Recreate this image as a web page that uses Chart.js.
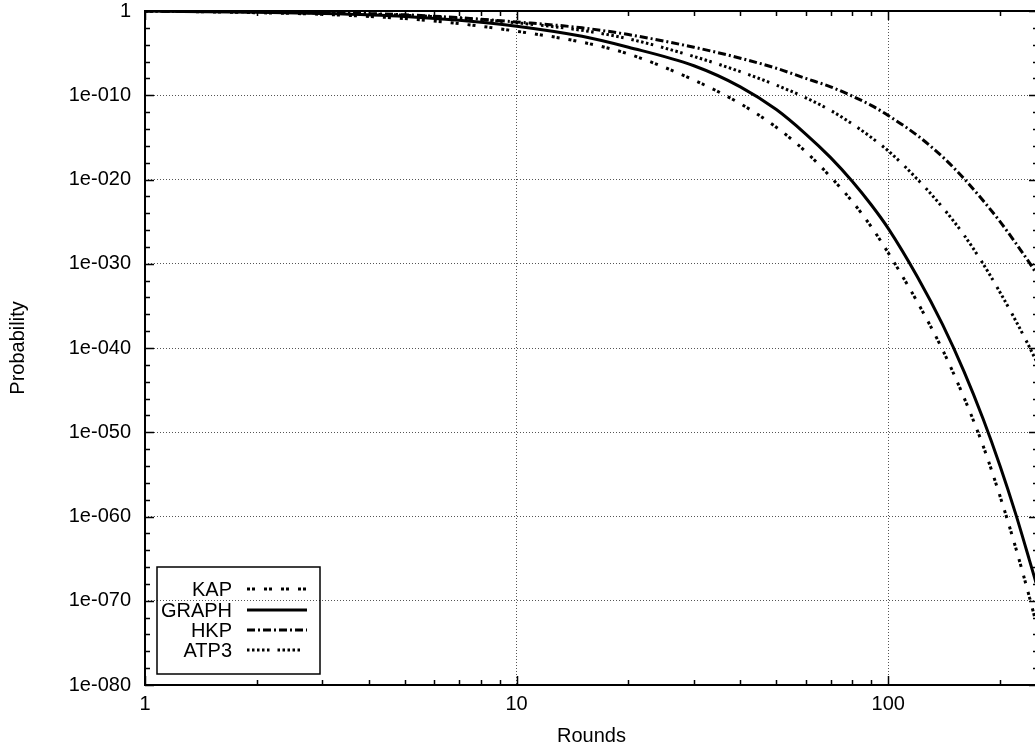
<!DOCTYPE html>
<html>
<head>
<meta charset="utf-8">
<title>Probability vs Rounds</title>
<script src="https://cdn.jsdelivr.net/npm/chart.js@4/dist/chart.umd.min.js"></script>
<style>
  html, body { margin: 0; padding: 0; background: #fff; }
  #wrap { width: 1035px; height: 749px; overflow: hidden; position: relative; }
  #wrap canvas { position: absolute; left: 0; top: 0; }
</style>
</head>
<body>
<div id="wrap"><canvas id="chart" width="1039" height="749"></canvas></div>
<script>
"use strict";

// Значения: log10 вероятности в каждой точке раунда.
const rounds   = [1, 2, 3, 5, 7, 10, 15, 20, 30, 40, 50, 60, 70, 80, 90, 100, 120, 140, 160, 180, 200, 220, 240, 250];
const kapExp   = [0, -0.2, -0.4, -0.9, -1.5, -2.4, -3.7, -5.1, -8.2, -11.0, -13.8, -16.7, -19.7, -22.6, -25.6, -28.7, -34.6, -40.2, -45.9, -51.6, -57.6, -63.6, -69.6, -72.6];
const graphExp = [0, -0.15, -0.3, -0.65, -1.1, -1.8, -3.0, -4.3, -6.5, -9.0, -11.7, -14.6, -17.4, -20.2, -23.0, -25.8, -31.6, -37.2, -42.8, -48.4, -54.0, -59.6, -65.2, -67.9];
const hkpExp   = [0, -0.1, -0.2, -0.45, -0.8, -1.3, -2.0, -2.8, -4.3, -5.6, -6.8, -8.0, -9.0, -10.1, -11.2, -12.4, -14.8, -17.3, -19.9, -22.5, -25.0, -27.5, -29.9, -31.1];
const atp3Exp  = [0, -0.1, -0.25, -0.5, -0.85, -1.4, -2.3, -3.3, -5.4, -7.2, -8.8, -10.3, -11.8, -13.4, -15.0, -16.6, -20.0, -23.3, -26.6, -30.0, -33.4, -36.7, -39.9, -41.5];

const xTicks = [1, 10, 100];
const xMinor = [2, 3, 4, 5, 6, 7, 8, 9, 20, 30, 40, 50, 60, 70, 80, 90, 200];
const yTicks = [1, 1e-10, 1e-20, 1e-30, 1e-40, 1e-50, 1e-60, 1e-70, 1e-80];

const FONT = "'Liberation Sans', Arial, Helvetica, sans-serif";
const toPoints = (exps) => exps.map((e, i) => ({ x: rounds[i], y: Math.pow(10, e) }));

const yLabel = (v) => {
  const e = Math.round(Math.log10(v));
  if (e === 0) return "1";
  return "1e-" + String(-e).padStart(3, "0");
};

const series = [
  { label: "KAP",   data: toPoints(kapExp),   dash: [3, 2, 3, 9] },
  { label: "GRAPH", data: toPoints(graphExp), dash: [] },
  { label: "HKP",   data: toPoints(hkpExp),   dash: [8, 3, 2, 3] },
  { label: "ATP3",  data: toPoints(atp3Exp),  dash: [2.5, 2.5, 2.5, 2.5, 2.5, 2.5, 2.5, 2.5, 2.5, 8] },
];

// подписи крайних делений не должны сдвигать область графика
const noEdgePad = (s) => { s.paddingTop = 0; s.paddingBottom = 0; s.paddingLeft = 0; s.paddingRight = 0; };

// рамка и засечки внутрь, как у gnuplot
const framePlugin = {
  id: "frame",
  afterDatasetsDraw(chart) {
    const { ctx, chartArea: a, scales } = chart;
    const x = scales.x, y = scales.y;
    ctx.save();
    ctx.strokeStyle = "#000";
    ctx.lineWidth = 1.5;
    ctx.beginPath();
    const xt = (v, len) => {
      const px = Math.round(x.getPixelForValue(v)) + 0.5;
      ctx.moveTo(px, a.bottom); ctx.lineTo(px, a.bottom - len);
      ctx.moveTo(px, a.top); ctx.lineTo(px, a.top + len);
    };
    xTicks.forEach((v) => xt(v, 9));
    xMinor.forEach((v) => xt(v, 5));
    for (let e = 0; e >= -80; e -= 2) {
      const len = e % 10 === 0 ? 9 : 5;
      const py = Math.round(y.getPixelForValue(Math.pow(10, e))) + 0.5;
      ctx.moveTo(a.left, py); ctx.lineTo(a.left + len, py);
      ctx.moveTo(a.right, py); ctx.lineTo(a.right - len, py);
    }
    ctx.stroke();
    ctx.lineWidth = 2;
    ctx.strokeRect(a.left, a.top, a.right - a.left, a.bottom - a.top);
    ctx.restore();
  },
};

// легенда в левом нижнем углу: подпись справа налево, образец линии справа
const legendPlugin = {
  id: "gpLegend",
  afterDraw(chart) {
    const { ctx } = chart;
    ctx.save();
    ctx.strokeStyle = "#000";
    ctx.lineWidth = 1.5;
    ctx.strokeRect(157, 567, 163, 107);
    ctx.font = "20px " + FONT;
    ctx.fillStyle = "#000";
    ctx.textAlign = "right";
    ctx.textBaseline = "middle";
    const rowY = [589, 610, 630, 650];
    chart.data.datasets.forEach((ds, i) => {
      ctx.fillText(ds.label, 232, rowY[i] + 1);
      ctx.beginPath();
      ctx.setLineDash(ds.borderDash || []);
      ctx.lineWidth = ds.borderWidth;
      ctx.lineCap = "butt";
      ctx.moveTo(247, rowY[i]);
      ctx.lineTo(307, rowY[i]);
      ctx.stroke();
    });
    ctx.restore();
  },
};

new Chart(document.getElementById("chart"), {
  type: "line",
  data: {
    datasets: series.map((s) => ({
      label: s.label,
      data: s.data,
      borderColor: "#000",
      backgroundColor: "#000",
      borderWidth: 3,
      borderDash: s.dash,
      borderCapStyle: "butt",
      pointRadius: 0,
      cubicInterpolationMode: "monotone",
      fill: false,
    })),
  },
  options: {
    responsive: false,
    animation: false,
    devicePixelRatio: 1,
    layout: { padding: { top: 11, right: 1, left: 0, bottom: 0 } },
    plugins: { legend: { display: false }, tooltip: { enabled: false } },
    scales: {
      x: {
        type: "logarithmic",
        min: 1,
        max: 253,
        afterBuildTicks: (s) => { s.ticks = xTicks.map((v) => ({ value: v })); },
        afterFit: (s) => { s.height = 64; noEdgePad(s); },
        grid: { color: "#555", lineWidth: 1, drawTicks: false },
        border: { display: false, dash: [1, 2] },
        ticks: {
          autoSkip: false, maxRotation: 0, padding: 7, color: "#000",
          font: { family: FONT, size: 20 },
          callback: (v) => String(v),
        },
        title: {
          display: true, text: "Rounds", color: "#000",
          font: { family: FONT, size: 20 }, padding: { top: 0, bottom: 1 },
        },
      },
      y: {
        type: "logarithmic",
        min: 1e-80,
        max: 1,
        afterBuildTicks: (s) => { s.ticks = yTicks.map((v) => ({ value: v })); },
        afterFit: (s) => { s.width = 145; noEdgePad(s); },
        grid: { color: "#555", lineWidth: 1, drawTicks: false },
        border: { display: false, dash: [1, 2] },
        ticks: {
          autoSkip: false, padding: 14, color: "#000",
          font: { family: FONT, size: 20 },
          callback: (v) => yLabel(v),
        },
        title: {
          display: true, text: "Probability", color: "#000",
          font: { family: FONT, size: 20 }, padding: { top: 6, bottom: 0 },
        },
      },
    },
  },
  plugins: [framePlugin, legendPlugin],
});
</script>
</body>
</html>
